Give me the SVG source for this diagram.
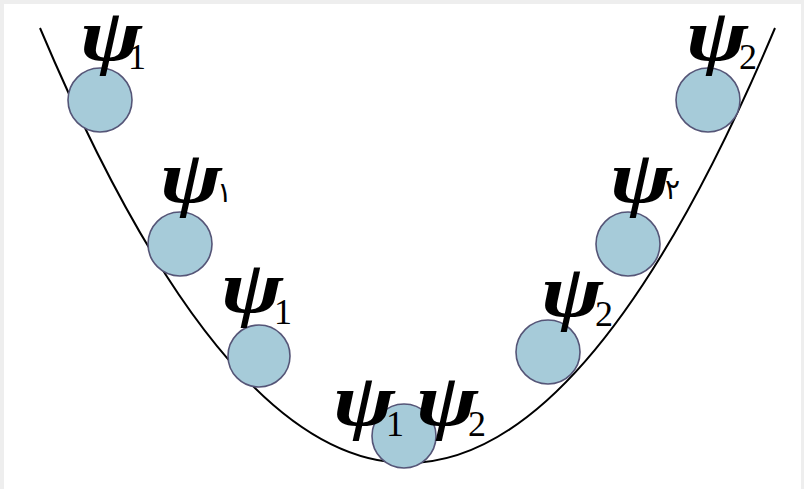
<svg xmlns="http://www.w3.org/2000/svg" width="804" height="489" viewBox="0 0 804 489">
  <style>
    .ball { fill: #a6cbd9; stroke: #555577; stroke-width: 1.6; }
    .curve { fill: none; stroke: #000000; stroke-width: 2; }
    .psi { font-family: "Liberation Serif", "Times New Roman", serif; font-weight: bold; font-style: italic; font-size: 74px; fill: #000000; }
    .sub { font-family: "Liberation Serif", "Times New Roman", serif; font-size: 36px; fill: #000000; }
    .ar { font-family: "DejaVu Sans", sans-serif; font-size: 28px; fill: #000000; }
  </style>
  <rect x="0" y="0" width="804" height="489" fill="#eeeeee"/>
  <rect x="4" y="4" width="797" height="485" fill="#ffffff"/>
  <g id="connectors">
    <path class="curve" d="M 40 28 Q 407.5 898 775 28"/>
  </g>
  <g id="node-l1">
    <circle class="ball" cx="100" cy="100" r="32"/>
    <text class="psi" x="80" y="60" textLength="62" lengthAdjust="spacingAndGlyphs">ψ</text>
    <text class="sub" x="128" y="69">1</text>
  </g>
  <g id="node-l2">
    <circle class="ball" cx="180" cy="244" r="32"/>
    <text class="psi" x="160" y="202" textLength="62" lengthAdjust="spacingAndGlyphs">ψ</text>
    <text class="ar" x="217" y="202">١</text>
  </g>
  <g id="node-l3">
    <circle class="ball" cx="259" cy="356" r="31"/>
    <text class="psi" x="221" y="312" textLength="62" lengthAdjust="spacingAndGlyphs">ψ</text>
    <text class="sub" x="274" y="324">1</text>
  </g>
  <g id="node-bottom">
    <circle class="ball" cx="404" cy="436" r="32"/>
    <text class="psi" x="333" y="425" textLength="62" lengthAdjust="spacingAndGlyphs">ψ</text>
    <text class="sub" x="386" y="436">1</text>
    <text class="psi" x="416" y="425" textLength="62" lengthAdjust="spacingAndGlyphs">ψ</text>
    <text class="sub" x="468" y="436">2</text>
  </g>
  <g id="node-r3">
    <circle class="ball" cx="548" cy="352" r="32"/>
    <text class="psi" x="541" y="316" textLength="62" lengthAdjust="spacingAndGlyphs">ψ</text>
    <text class="sub" x="595" y="326">2</text>
  </g>
  <g id="node-r2">
    <circle class="ball" cx="628" cy="244" r="32"/>
    <text class="psi" x="610" y="202" textLength="62" lengthAdjust="spacingAndGlyphs">ψ</text>
    <text class="ar" x="665" y="199">٢</text>
  </g>
  <g id="node-r1">
    <circle class="ball" cx="708" cy="100" r="32"/>
    <text class="psi" x="686" y="60" textLength="62" lengthAdjust="spacingAndGlyphs">ψ</text>
    <text class="sub" x="739" y="69">2</text>
  </g>
</svg>
